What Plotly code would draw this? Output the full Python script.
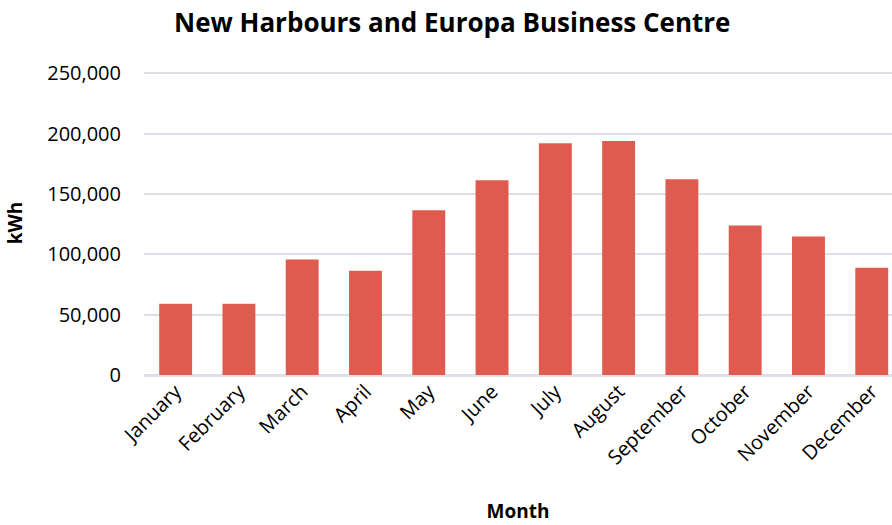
import plotly.graph_objects as go

months = ["January", "February", "March", "April", "May", "June", "July",
          "August", "September", "October", "November", "December"]
kwh = [59000, 59000, 95700, 86500, 136500, 161400, 192200, 193900,
       162300, 124000, 114800, 89000]
y_ticks = [0, 50000, 100000, 150000, 200000, 250000]

FONT = "Open Sans"

fig = go.Figure(go.Bar(
    x=months, y=kwh, width=0.52,
    marker=dict(color="#E05B4F", line=dict(width=0)),
    hoverinfo="x+y",
))

fig.update_layout(
    width=892, height=525,
    paper_bgcolor="white", plot_bgcolor="white",
    margin=dict(l=144, r=0, t=71, b=150),
    showlegend=False,
    title=dict(text="<b>New Harbours and Europa Business Centre</b>",
               x=0.507, xanchor="center", y=0.957, yanchor="middle",
               font=dict(family=FONT, size=26, color="black")),
    font=dict(family=FONT, color="black"),
)

fig.update_xaxes(
    range=[-0.5, 11.32], tickangle=-45,
    tickfont=dict(family=FONT, size=20, color="black"),
    showgrid=False, showline=False, zeroline=False,
    title=dict(text="<b>Month</b>", font=dict(family=FONT, size=19, color="black"),
               standoff=35),
)
fig.update_yaxes(
    range=[0, 252000], tickvals=y_ticks,
    ticktext=[f"{v:,}" for v in y_ticks],
    tickfont=dict(family=FONT, size=20, color="black"),
    ticklabelstandoff=22,
    showgrid=True, gridcolor="#DDE1E7", gridwidth=2,
    zeroline=True, zerolinecolor="#DDE1E7", zerolinewidth=3,
    showline=False,
    title=dict(text="<b>kWh</b>", font=dict(family=FONT, size=19, color="black"),
               standoff=19),
)

fig.write_html("out.html")
